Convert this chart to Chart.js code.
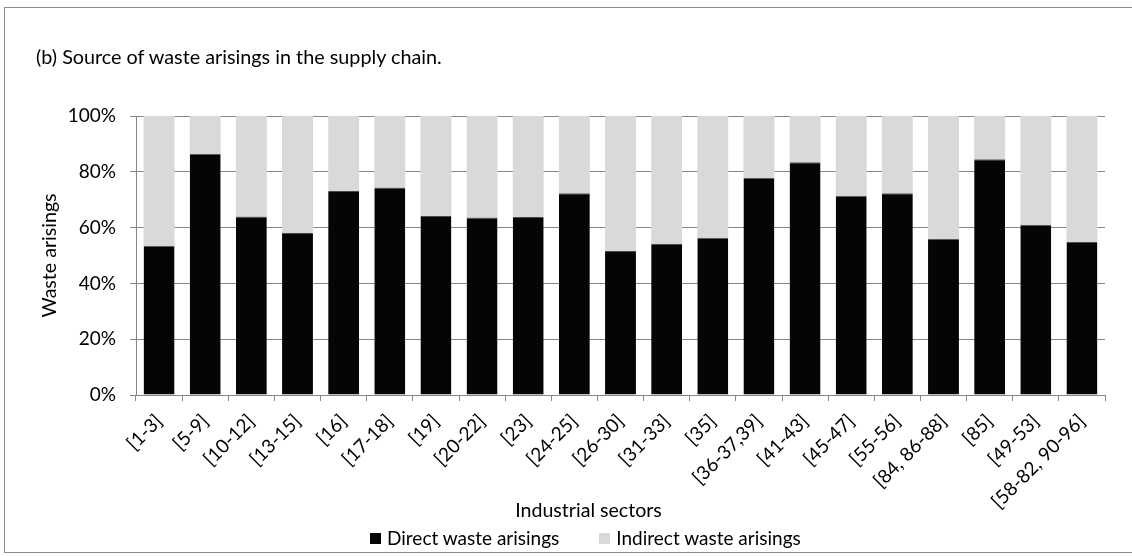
<!DOCTYPE html>
<html>
<head>
<meta charset="utf-8">
<script src="https://cdn.jsdelivr.net/npm/chart.js@4"></script>
<style>
  body { margin:0; background:#fff; overflow:hidden; }
  #wrap { position:relative; width:1132px; height:556px; font-family:Lato, sans-serif; color:#000; overflow:hidden; }
  #frame { position:absolute; left:4px; top:7px; width:1140px; height:546px; border:1px solid #8c8c8c; box-sizing:border-box; }
  #title { position:absolute; left:36px; top:46px; font-size:19.8px; line-height:20px; white-space:nowrap; }
  #xtitle { position:absolute; left:0; width:1177px; top:500px; text-align:center; font-size:19.6px; line-height:20px; }
  #legend { position:absolute; left:370px; top:528px; font-size:19px; line-height:20px; display:flex; align-items:center; white-space:nowrap; }
  #legend .box { display:inline-block; width:11px; height:11px; margin-right:6px; }
  #legend .item { display:flex; align-items:center; margin-right:40px; }
  canvas { position:absolute; left:0; top:0; }
</style>
</head>
<body>
<div id="wrap">
  <div id="frame"></div>
  <canvas id="chart" width="1132" height="556"></canvas>
  <div id="title">(b) Source of waste arisings in the supply chain.</div>
  <div id="xtitle">Industrial sectors</div>
  <div id="legend"></div>
</div>
<script>
// sectors (x axis)
const sectors = ['[1-3]','[5-9]','[10-12]','[13-15]','[16]','[17-18]','[19]','[20-22]','[23]','[24-25]',
  '[26-30]','[31-33]','[35]','[36-37,39]','[41-43]','[45-47]','[55-56]','[84, 86-88]','[85]','[49-53]','[58-82, 90-96]'];

// share of direct waste (%)
const direct = [53.5, 86.5, 64.0, 58.1, 73.1, 74.4, 64.2, 63.6, 63.8, 72.3,
  51.6, 54.1, 56.4, 77.9, 83.4, 71.4, 72.3, 56.0, 84.5, 61.0, 54.8];
// indirect share = rest of the 100% stack
const indirect = [46.5, 13.5, 36.0, 41.9, 26.9, 25.6, 35.8, 36.4, 36.2, 27.7,
  48.4, 45.9, 43.6, 22.1, 16.6, 28.6, 27.7, 44.0, 15.5, 39.0, 45.2];

const seriesNames = ['Direct waste arisings', 'Indirect waste arisings'];
const seriesColors = ['#050505', '#d9d9d9'];
const yTicks = [0, 20, 40, 60, 80, 100];

const FONT = 'Lato';
const GRID = '#868686';

// html legend
const leg = document.getElementById('legend');
seriesNames.forEach((n,i)=>{
  const it = document.createElement('div'); it.className = 'item';
  const b = document.createElement('span'); b.className = 'box'; b.style.background = seriesColors[i];
  it.appendChild(b); it.appendChild(document.createTextNode(n));
  leg.appendChild(it);
});

new Chart(document.getElementById('chart'), {
  type: 'bar',
  data: {
    labels: sectors,
    datasets: [
      { label: seriesNames[0], data: direct, backgroundColor: seriesColors[0], borderColor:'#4a4a4a', borderWidth:{top:1,left:0,right:0,bottom:0}, borderSkipped:false },
      { label: seriesNames[1], data: indirect, backgroundColor: seriesColors[1], borderWidth:0 }
    ]
  },
  options: {
    responsive: false,
    animation: false,
    devicePixelRatio: 1,
    layout: { padding: { left: 8, top: 116, right: 27, bottom: 11 } },
    datasets: { bar: { categoryPercentage: 1, barPercentage: 0.67 } },
    plugins: { legend: { display: false }, title: { display: false }, tooltip: { enabled: false } },
    scales: {
      x: {
        stacked: true,
        afterFit: s => { s.height = 150; },
        grid: { drawOnChartArea: false, drawTicks: true, tickLength: 6, color: GRID, offset: true },
        border: { color: GRID },
        ticks: { minRotation: 45, maxRotation: 45, autoSkip: false, padding: 9, color: '#000', font: { family: FONT, size: 19 } }
      },
      y: {
        stacked: true,
        min: 0, max: 100,
        afterFit: s => { s.width = 128; },
        afterBuildTicks: s => { s.ticks = yTicks.map(v => ({ value: v })); },
        grid: { color: GRID, tickLength: 6, drawTicks: true },
        border: { color: GRID },
        ticks: { padding: 14, color: '#000', font: { family: FONT, size: 19 }, callback: v => v + '%' },
        title: { display: true, text: 'Waste arisings', color: '#000', padding: { top: 30, bottom: 0 }, font: { family: FONT, size: 19.6 } }
      }
    }
  }
});
</script>
</body>
</html>
